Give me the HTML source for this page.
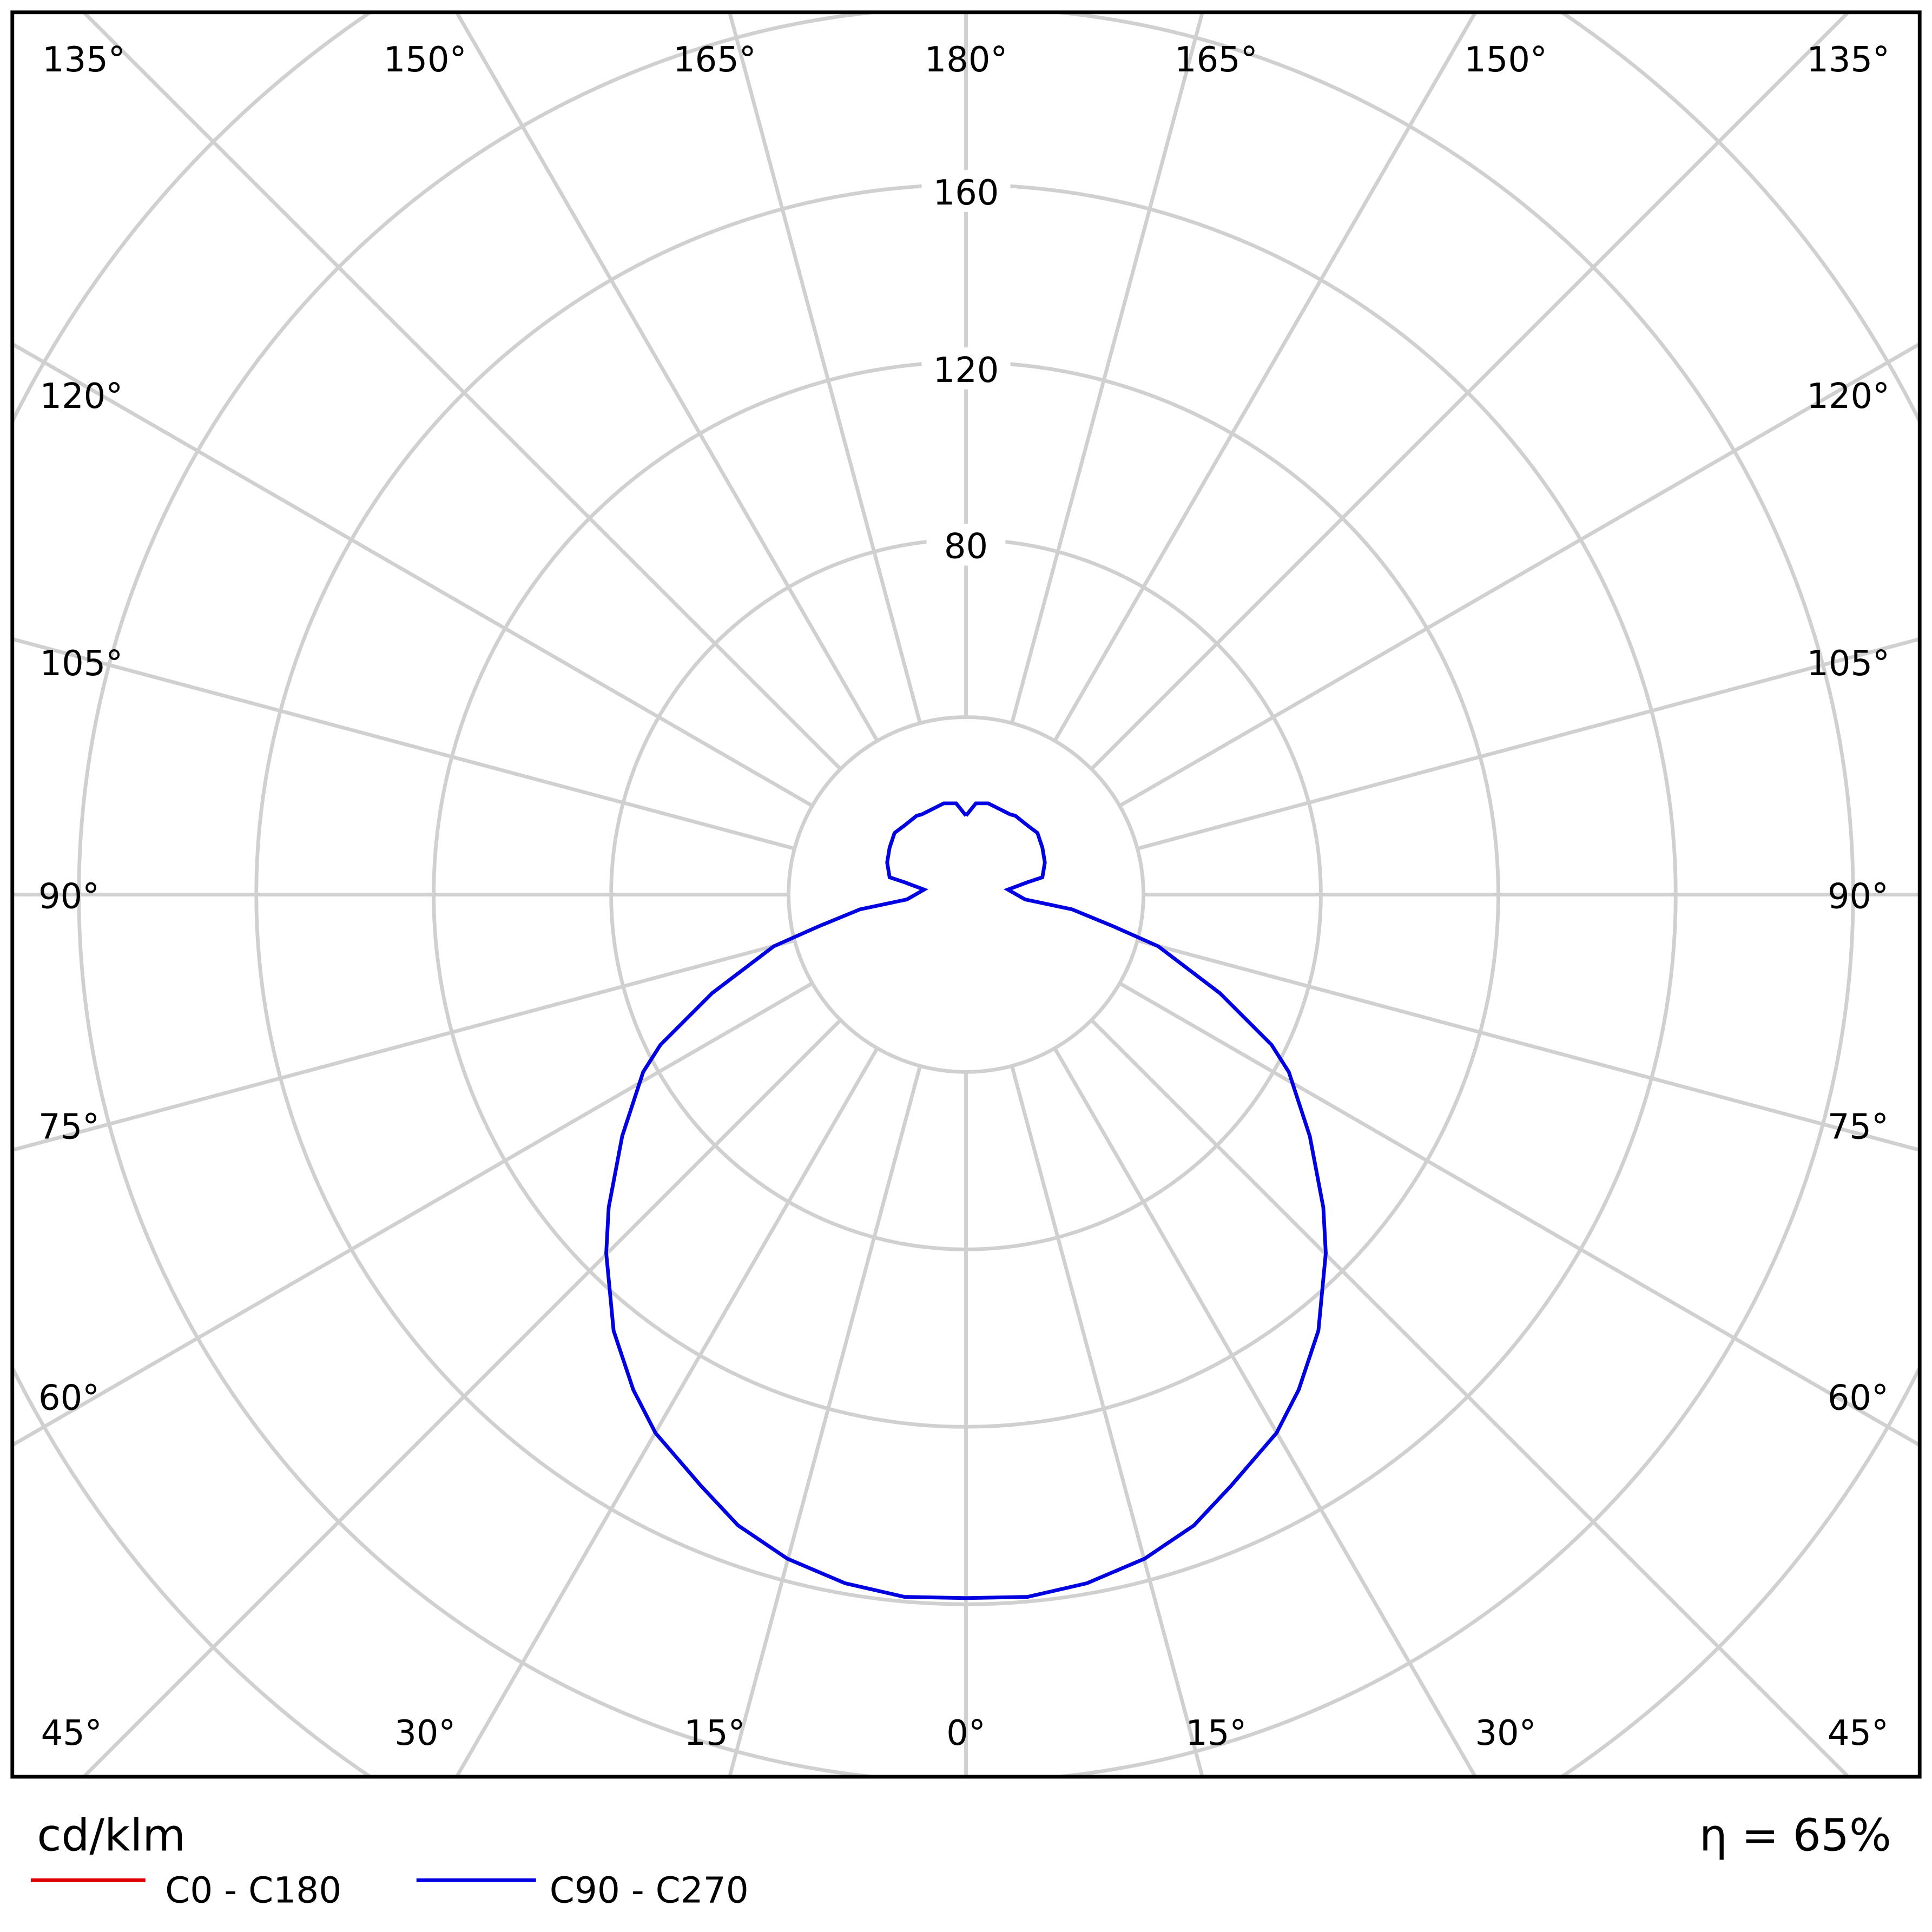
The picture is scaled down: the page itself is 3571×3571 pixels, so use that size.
<!DOCTYPE html>
<html><head><meta charset="utf-8"><style>html,body{margin:0;padding:0;background:#fff;width:3571px;height:3571px;overflow:hidden}svg{display:block}</style></head>
<body>
<svg width="3571" height="3571" viewBox="0 0 1568 1568" xmlns="http://www.w3.org/2000/svg" font-family="DejaVu Sans, Liberation Sans, sans-serif">
<rect width="1568" height="1568" fill="#fff"/>
<defs><clipPath id="c"><rect x="10" y="10" width="1548" height="1432"/></clipPath></defs>
<g clip-path="url(#c)" stroke="#d0d0d0" stroke-width="3" fill="none">
<circle cx="784" cy="726" r="144"/><circle cx="784" cy="726" r="288"/><circle cx="784" cy="726" r="432"/>
<circle cx="784" cy="726" r="576"/><circle cx="784" cy="726" r="720"/><circle cx="784" cy="726" r="864"/>
<g id="sp">
<line x1="928" y1="726" x2="2784" y2="726"/>
<line x1="784" y1="870" x2="784" y2="2726"/>
<line x1="784" y1="582" x2="784" y2="-1274"/>
<line x1="640" y1="726" x2="-1216" y2="726"/>
</g>
<use href="#sp" transform="rotate(15 784 726)"/>
<use href="#sp" transform="rotate(30 784 726)"/>
<use href="#sp" transform="rotate(45 784 726)"/>
<use href="#sp" transform="rotate(60 784 726)"/>
<use href="#sp" transform="rotate(75 784 726)"/>
</g>
<g font-size="28" text-anchor="middle" fill="#000">
<g fill="#fff" stroke="none"><rect x="752" y="425" width="64" height="34"/><rect x="748" y="282" width="72" height="34"/><rect x="748" y="138" width="72" height="34"/></g>
<text x="784" y="453">80</text><text x="784" y="310">120</text><text x="784" y="166">160</text>
<text x="68" y="58">135°</text><text x="345" y="58">150°</text><text x="580" y="58">165°</text><text x="784" y="58">180°</text><text x="987" y="58">165°</text><text x="1222" y="58">150°</text><text x="1500" y="58">135°</text>
<text x="66" y="331">120°</text><text x="66" y="548">105°</text><text x="56" y="737">90°</text><text x="56" y="924">75°</text><text x="56" y="1144">60°</text>
<text x="1500" y="331">120°</text><text x="1500" y="548">105°</text><text x="1508" y="737">90°</text><text x="1508" y="924">75°</text><text x="1508" y="1144">60°</text>
<text x="58" y="1416">45°</text><text x="345" y="1416">30°</text><text x="580" y="1416">15°</text><text x="784" y="1416">0°</text><text x="987" y="1416">15°</text><text x="1222" y="1416">30°</text><text x="1508" y="1416">45°</text>
</g>
<polyline fill="none" stroke="#0000e0" stroke-width="3" points="784,662 776,652 766,652 754,658 748,661 744,662 734,670 726,676 722,688 720,700 722,712 734,716 750,722 736,730 698,738 664,752 628,768 578,806 536,848 522,870 505,922 494,980 492,1017 498,1080 514,1128 532,1163 569,1206 599,1238 639,1265 686,1285 734,1296 784,1297 834,1296 882,1285 929,1265 969,1238 999,1206 1036,1163 1054,1128 1070,1080 1076,1017 1074,980 1063,922 1046,870 1032,848 990,806 940,768 904,752 870,738 832,730 818,722 834,716 846,712 848,700 846,688 842,676 834,670 824,662 820,661 814,658 802,652 792,652 784,662"/>
<rect x="10" y="10" width="1548" height="1432" fill="none" stroke="#000" stroke-width="3"/>
<text x="30" y="1502" font-size="36">cd/klm</text>
<text x="1535" y="1502" font-size="36" text-anchor="end">η = 65%</text>
<line x1="25" y1="1526" x2="118" y2="1526" stroke="#e00000" stroke-width="3"/>
<text x="134" y="1544" font-size="29">C0 - C180</text>
<line x1="338" y1="1526" x2="435" y2="1526" stroke="#0000e0" stroke-width="3"/>
<text x="446" y="1544" font-size="29">C90 - C270</text>
</svg>
</body></html>
